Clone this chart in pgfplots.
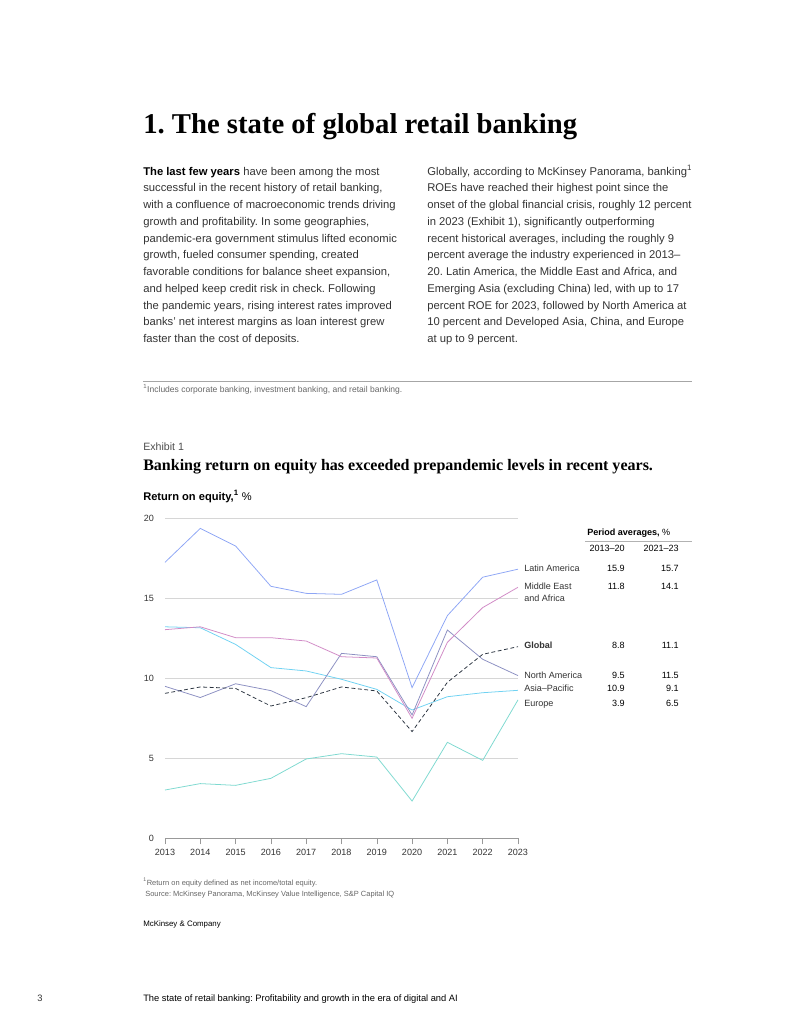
\documentclass[border=0pt]{standalone}
\usepackage{pgfplots}
\pgfplotsset{compat=1.18}
\usepackage{fontspec}
\setmainfont{Liberation Sans}
\newfontfamily\serif{Liberation Serif}
\frenchspacing

\definecolor{cLat}{HTML}{8EA6F5}
\definecolor{cMEA}{HTML}{D18BC6}
\definecolor{cNA}{HTML}{8C90C2}
\definecolor{cAP}{HTML}{70D2F2}
\definecolor{cEU}{HTML}{7ED9D0}
\definecolor{cGl}{HTML}{2B3440}
\definecolor{txt}{HTML}{333333}
\definecolor{lgray}{HTML}{D6D6D6}

\newcommand\bodyfont{\fontsize{8.7}{10}\selectfont\color{txt}}
\newcommand\labfont{\fontsize{7}{8}\selectfont}
\newcommand\notefont{\fontsize{5.8}{7}\selectfont}

\begin{document}
\begin{tikzpicture}
\begin{scope}[x=0.7737pt, y=-0.7737pt]
\useasboundingbox (0,0) rectangle (791,1024);

% heading
\node[anchor=base west, inner sep=0pt, font=\serif\bfseries\fontsize{22.2}{26}\selectfont] at (143,133) {1. The state of global retail banking};

% left column
\foreach \t [count=\i from 0] in {
  {\textbf{\color{black}The last few years} have been among the most},
  {successful in the recent history of retail banking,},
  {with a confluence of macroeconomic trends driving},
  {growth and profitability. In some geographies,},
  {pandemic-era government stimulus lifted economic},
  {growth, fueled consumer spending, created},
  {favorable conditions for balance sheet expansion,},
  {and helped keep credit risk in check. Following},
  {the pandemic years, rising interest rates improved},
  {banks’ net interest margins as loan interest grew},
  {faster than the cost of deposits.}}
  \node[anchor=base west, inner sep=0pt, font=\bodyfont] at (143,175+16.75*\i) {\t};

% right column
\foreach \t [count=\i from 0] in {
  {Globally, according to McKinsey Panorama, banking\textsuperscript{1}},
  {ROEs have reached their highest point since the},
  {onset of the global financial crisis, roughly 12 percent},
  {in 2023 (Exhibit 1), significantly outperforming},
  {recent historical averages, including the roughly 9},
  {percent average the industry experienced in 2013–},
  {20. Latin America, the Middle East and Africa, and},
  {Emerging Asia (excluding China) led, with up to 17},
  {percent ROE for 2023, followed by North America at},
  {10 percent and Developed Asia, China, and Europe},
  {at up to 9 percent.}}
  \node[anchor=base west, inner sep=0pt, font=\bodyfont] at (427,175+16.75*\i) {\t};

% footnote
\draw[gray!70, line width=0.5pt] (143,381) -- (692,381);
\node[anchor=base west, inner sep=0pt, font=\fontsize{6.6}{8}\selectfont, text=gray!80!black] at (143,392) {\textsuperscript{1}Includes corporate banking, investment banking, and retail banking.};

% exhibit header
\node[anchor=base west, inner sep=0pt, font=\fontsize{8.2}{9}\selectfont, text=black!70] at (143,450) {Exhibit 1};
\node[anchor=base west, inner sep=0pt, font=\serif\bfseries\fontsize{12.4}{15}\selectfont] at (143,470) {Banking return on equity has exceeded prepandemic levels in recent years.};
\node[anchor=base west, inner sep=0pt, font=\fontsize{8.6}{10}\selectfont] at (143,500) {\textbf{Return on equity,\textsuperscript{1}} \%};

% period averages
\node[anchor=base west, inner sep=0pt, font=\labfont] at (587,535) {\textbf{Period averages,} \%};
\draw[gray!60, line width=0.4pt] (585,541) -- (692,541);
\node[anchor=base east, inner sep=0pt, font=\labfont] at (625,551) {2013–20};
\node[anchor=base east, inner sep=0pt, font=\labfont] at (679,551) {2021–23};
\foreach \y/\lab/\a/\b in {571/Latin America/15.9/15.7, 589/Middle East/11.8/14.1, 648/\textbf{Global}/8.8/11.1, 678/North America/9.5/11.5, 691/Asia–Pacific/10.9/9.1, 706/Europe/3.9/6.5}{
  \node[anchor=base west, inner sep=0pt, font=\labfont, text=txt] at (524,\y) {\lab};
  \node[anchor=base east, inner sep=0pt, font=\labfont] at (625,\y) {\a};
  \node[anchor=base east, inner sep=0pt, font=\labfont] at (679,\y) {\b};
}
\node[anchor=base west, inner sep=0pt, font=\labfont, text=txt] at (524,601) {and Africa};

% source
\node[anchor=base west, inner sep=0pt, font=\notefont, text=gray!80!black] at (143,885) {\textsuperscript{1}Return on equity defined as net income/total equity.};
\node[anchor=base west, inner sep=0pt, font=\notefont, text=gray!80!black] at (145,896) {Source: McKinsey Panorama, McKinsey Value Intelligence, S\&P Capital IQ};
\node[anchor=base west, inner sep=0pt, font=\fontsize{6.1}{7}\selectfont] at (143,926) {McKinsey \& Company};

% page footer
\node[anchor=base west, inner sep=0pt, font=\fontsize{7.2}{8}\selectfont, text=txt] at (37,1001) {3};
\node[anchor=base west, inner sep=0pt, font=\fontsize{7.2}{8}\selectfont] at (143,1001) {The state of retail banking: Profitability and growth in the era of digital and AI};
\end{scope}

\begin{axis}[
  at={(127.66pt,-648.36pt)}, anchor=south west,
  scale only axis, width=273.1pt, height=247.6pt,
  xmin=2013, xmax=2023, ymin=0, ymax=20,
  xtick={2013,...,2023}, ytick={0,5,10,15,20},
  xticklabel style={/pgf/number format/1000 sep={}},
  /pgf/number format/assume math mode=true,
  tick label style={font=\fontsize{7}{8}\selectfont, text=txt},
  axis lines*=left,
  y axis line style={draw=none},
  ytick style={draw=none},
  x axis line style={gray!80, -},
  xtick style={gray!80, line width=0.4pt},
  tick align=outside, major tick length=5pt,
  ymajorgrids, grid style={lgray, line width=0.5pt},
  clip=false,
  every axis plot/.append style={line width=0.6pt, no markers},
]
\addplot[cEU] coordinates {(2013,3.0) (2014,3.4) (2015,3.29) (2016,3.73) (2017,4.94) (2018,5.27) (2019,5.06) (2020,2.31) (2021,5.98) (2022,4.85) (2023,8.63)};
\addplot[cAP] coordinates {(2013,13.2) (2014,13.14) (2015,12.1) (2016,10.65) (2017,10.44) (2018,9.92) (2019,9.29) (2020,8.0) (2021,8.83) (2022,9.08) (2023,9.23)};
\addplot[cNA] coordinates {(2013,9.48) (2014,8.78) (2015,9.64) (2016,9.21) (2017,8.21) (2018,11.54) (2019,11.33) (2020,7.69) (2021,13.0) (2022,11.17) (2023,10.15)};
\addplot[cMEA] coordinates {(2013,13.02) (2014,13.2) (2015,12.52) (2016,12.52) (2017,12.31) (2018,11.33) (2019,11.25) (2020,7.48) (2021,12.23) (2022,14.4) (2023,15.67)};
\addplot[cLat] coordinates {(2013,17.23) (2014,19.35) (2015,18.25) (2016,15.73) (2017,15.29) (2018,15.23) (2019,16.13) (2020,9.4) (2021,13.9) (2022,16.3) (2023,16.8)};
\addplot[cGl, dash pattern=on 3pt off 2pt] coordinates {(2013,9.04) (2014,9.44) (2015,9.35) (2016,8.25) (2017,8.77) (2018,9.44) (2019,9.19) (2020,6.65) (2021,9.73) (2022,11.48) (2023,11.96)};
\end{axis}
\end{tikzpicture}
\end{document}
